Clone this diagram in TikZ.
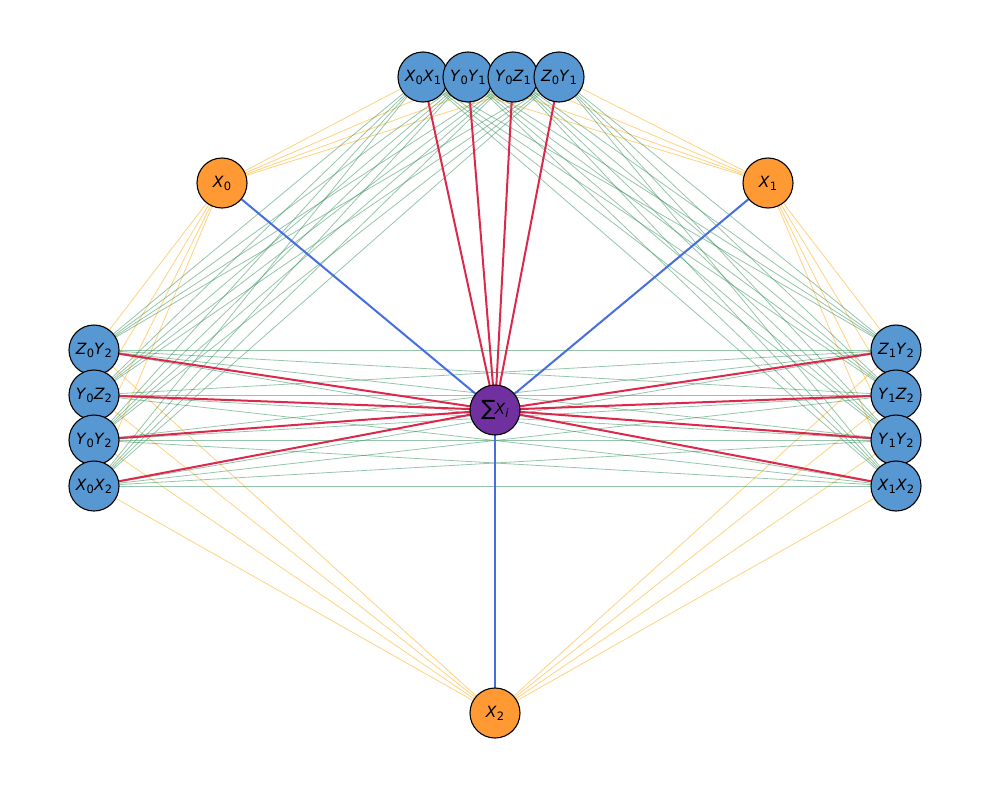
\documentclass[tikz,border=0pt]{standalone}
\usepackage{fontspec}
\setmainfont{DejaVu Sans}
\pgfdeclarelayer{bg}
\pgfsetlayers{bg,main}
\definecolor{qblue}{RGB}{87,152,211}
\definecolor{qorange}{RGB}{255,153,51}
\definecolor{qpurple}{RGB}{112,48,160}
\definecolor{redge}{RGB}{220,40,75}
\definecolor{bedge}{RGB}{70,110,225}
\definecolor{gedge}{RGB}{46,139,87}
\definecolor{oedge}{RGB}{255,165,0}
\newcommand\sq[2]{\textit{#1}\raisebox{-0.35ex}{\fontsize{11.5}{11.5}\selectfont #2}}
\begin{document}
\begin{tikzpicture}[x=1pt,y=-1pt,
  base/.style={circle,draw=black,line width=1.1pt,minimum size=50pt,inner sep=0pt,font=\fontsize{15.5}{18}\selectfont},
  qn/.style={base,fill=qblue},
  xn/.style={base,fill=qorange},
  sn/.style={base,fill=qpurple},
  gline/.style={draw=gedge,draw opacity=0.5,line width=0.8pt},
  oline/.style={draw=oedge,draw opacity=0.5,line width=0.8pt},
  rline/.style={draw=redge,line width=2pt},
  bline/.style={draw=bedge,line width=2pt}]
\path[use as bounding box] (0,0) rectangle (989,790);
% top
\node[qn] (t1) at (423,77) {\sq{X}{0}\sq{X}{1}};
\node[qn] (t2) at (468,77) {\sq{Y}{0}\sq{Y}{1}};
\node[qn] (t3) at (513,77) {\sq{Y}{0}\sq{Z}{1}};
\node[qn] (t4) at (559,77) {\sq{Z}{0}\sq{Y}{1}};
% left
\node[qn] (l1) at (94,350) {\sq{Z}{0}\sq{Y}{2}};
\node[qn] (l2) at (94,395) {\sq{Y}{0}\sq{Z}{2}};
\node[qn] (l3) at (94,440) {\sq{Y}{0}\sq{Y}{2}};
\node[qn] (l4) at (94,486) {\sq{X}{0}\sq{X}{2}};
% right
\node[qn] (r1) at (896,350) {\sq{Z}{1}\sq{Y}{2}};
\node[qn] (r2) at (896,395) {\sq{Y}{1}\sq{Z}{2}};
\node[qn] (r3) at (896,440) {\sq{Y}{1}\sq{Y}{2}};
\node[qn] (r4) at (896,486) {\sq{X}{1}\sq{X}{2}};
% X nodes
\node[xn] (x0) at (222,183) {\sq{X}{0}};
\node[xn] (x1) at (768,183) {\sq{X}{1}};
\node[xn] (x2) at (495,713) {\sq{X}{2}};
% center
\node[sn] (c) at (495,410) {\raisebox{-0.15ex}{\fontsize{21}{21}\selectfont ∑}\kern-1pt\sq{X}{\textit{i}}};
\begin{pgfonlayer}{bg}
\foreach \a in {t1,t2,t3,t4,l1,l2,l3,l4} \draw[oline] (x0.center) -- (\a.center);
\foreach \a in {t1,t2,t3,t4,r1,r2,r3,r4} \draw[oline] (x1.center) -- (\a.center);
\foreach \a in {l1,l2,l3,l4,r1,r2,r3,r4} \draw[oline] (x2.center) -- (\a.center);
\foreach \a in {t1,t2,t3,t4} {
  \foreach \b in {l1,l2,l3,l4,r1,r2,r3,r4} \draw[gline] (\a.center) -- (\b.center);
}
\foreach \a in {l1,l2,l3,l4} {
  \foreach \b in {r1,r2,r3,r4} \draw[gline] (\a.center) -- (\b.center);
}
\foreach \a in {x0,x1,x2} \draw[bline] (c.center) -- (\a.center);
\foreach \a in {t1,t2,t3,t4,l1,l2,l3,l4,r1,r2,r3,r4} \draw[rline] (c.center) -- (\a.center);
\end{pgfonlayer}
\end{tikzpicture}
\end{document}
